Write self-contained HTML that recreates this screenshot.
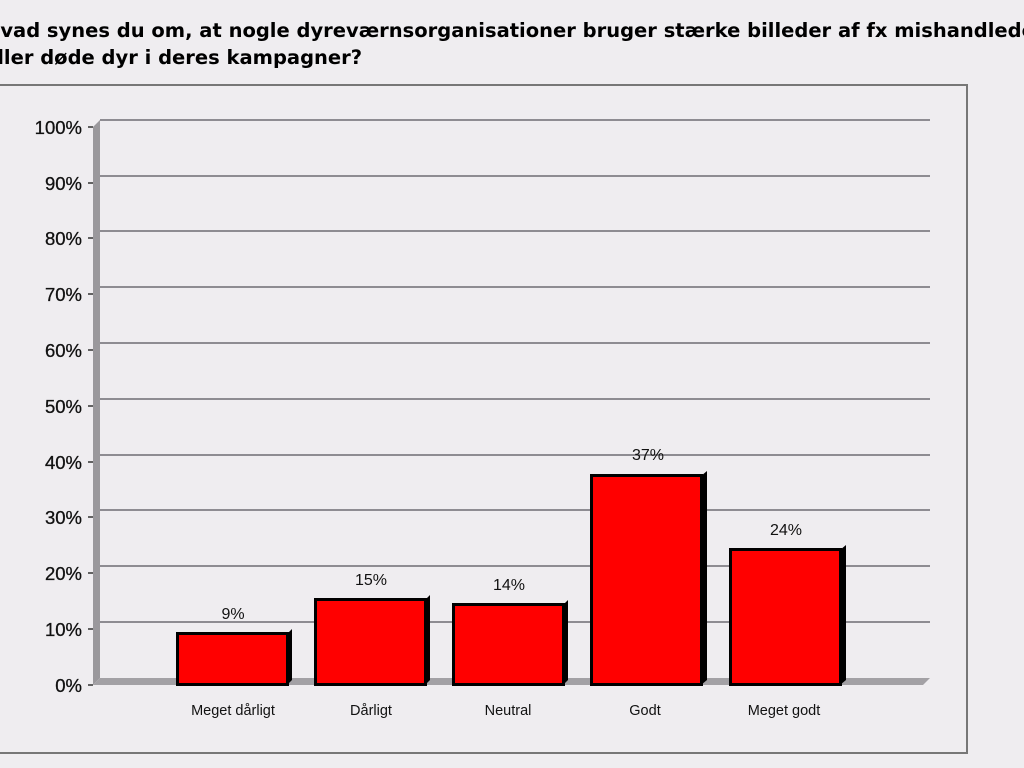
<!DOCTYPE html>
<html><head><meta charset="utf-8"><style>
html,body{margin:0;padding:0;background:#efedf0;width:1024px;height:768px;overflow:hidden}
svg{display:block}
</style></head><body>
<svg width="1024" height="768" viewBox="0 0 1024 768" font-family="Liberation Sans, Arial, sans-serif">
<rect width="1024" height="768" fill="#efedf0"/>
<text x="-16" y="37" font-family="DejaVu Sans, Verdana, sans-serif" font-weight="bold" font-size="19.5" fill="#000">Hvad synes du om, at nogle dyreværnsorganisationer bruger stærke billeder af fx mishandlede</text>
<text x="-16" y="64" font-family="DejaVu Sans, Verdana, sans-serif" font-weight="bold" font-size="19.5" fill="#000">eller døde dyr i deres kampagner?</text>
<rect x="-2" y="85" width="969" height="668" fill="none" stroke="#777" stroke-width="2"/>
<polygon points="93,127 100,120 100,678 93,685" fill="#9a989c"/>
<polygon points="93,685 100,678 930,678 923,685" fill="#a3a1a5"/>
<g stroke="#6f6d72" stroke-width="1.5">
<line x1="100" y1="120" x2="930" y2="120"/>
<line x1="100" y1="176" x2="930" y2="176"/>
<line x1="100" y1="231" x2="930" y2="231"/>
<line x1="100" y1="287" x2="930" y2="287"/>
<line x1="100" y1="343" x2="930" y2="343"/>
<line x1="100" y1="399" x2="930" y2="399"/>
<line x1="100" y1="455" x2="930" y2="455"/>
<line x1="100" y1="510" x2="930" y2="510"/>
<line x1="100" y1="566" x2="930" y2="566"/>
<line x1="100" y1="622" x2="930" y2="622"/>
</g>
<g stroke="#333" stroke-width="1.5">
<line x1="88" y1="127" x2="93" y2="127"/><line x1="88" y1="183" x2="93" y2="183"/><line x1="88" y1="238" x2="93" y2="238"/><line x1="88" y1="294" x2="93" y2="294"/><line x1="88" y1="350" x2="93" y2="350"/><line x1="88" y1="406" x2="93" y2="406"/><line x1="88" y1="462" x2="93" y2="462"/><line x1="88" y1="517" x2="93" y2="517"/><line x1="88" y1="573" x2="93" y2="573"/><line x1="88" y1="629" x2="93" y2="629"/><line x1="88" y1="685" x2="93" y2="685"/>
</g>
<g font-size="18.5" fill="#111" text-anchor="end" stroke="#111" stroke-width="0.3">
<text x="82" y="134">100%</text><text x="82" y="190">90%</text><text x="82" y="245">80%</text><text x="82" y="301">70%</text><text x="82" y="357">60%</text><text x="82" y="413">50%</text><text x="82" y="469">40%</text><text x="82" y="524">30%</text><text x="82" y="580">20%</text><text x="82" y="636">10%</text><text x="82" y="692">0%</text>
</g>
<g>
<polygon points="287,634 292,629 292,680 287,685" fill="#000"/>
<rect x="177.5" y="633.5" width="110" height="51" fill="#ff0000" stroke="#000" stroke-width="3"/>
<polygon points="425,600 430,595 430,680 425,685" fill="#000"/>
<rect x="315.5" y="599.5" width="110" height="85" fill="#ff0000" stroke="#000" stroke-width="3"/>
<polygon points="563,605 568,600 568,680 563,685" fill="#000"/>
<rect x="453.5" y="604.5" width="110" height="80" fill="#ff0000" stroke="#000" stroke-width="3"/>
<polygon points="701,476 707,471 707,680 701,685" fill="#000"/>
<rect x="591.5" y="475.5" width="110" height="209" fill="#ff0000" stroke="#000" stroke-width="3"/>
<polygon points="840,550 846,545 846,680 840,685" fill="#000"/>
<rect x="730.5" y="549.5" width="110" height="135" fill="#ff0000" stroke="#000" stroke-width="3"/>
</g>
<g font-size="16" fill="#111" text-anchor="middle">
<text x="233" y="619">9%</text><text x="371" y="585">15%</text><text x="509" y="590">14%</text><text x="648" y="460">37%</text><text x="786" y="535">24%</text>
</g>
<g font-size="14.5" fill="#111" text-anchor="middle">
<text x="233" y="715">Meget dårligt</text><text x="371" y="715">Dårligt</text><text x="508" y="715">Neutral</text><text x="645" y="715">Godt</text><text x="784" y="715">Meget godt</text>
</g>
</svg>
</body></html>
